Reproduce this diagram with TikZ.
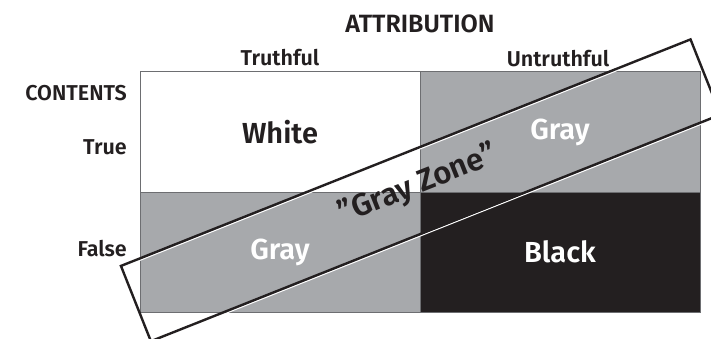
\documentclass[tikz,border=0pt]{standalone}
\usepackage{fontspec}
\setmainfont{Fira Sans}[BoldFont={Fira Sans SemiBold}]
\usepackage{xcolor}
\definecolor{cellgray}{HTML}{A7A9AC}
\definecolor{cellblack}{HTML}{231F20}
\definecolor{rulegray}{HTML}{6D6E71}
\definecolor{ink}{HTML}{231F20}

\begin{document}
\begin{tikzpicture}[x=1pt, y=-1pt,
    cell/.style={draw=rulegray, line width=1pt, minimum width=280pt, minimum height=120pt, inner sep=0pt, font=\fontsize{29}{30}\selectfont\bfseries},
    lbl/.style={text=ink, inner sep=0pt, font=\fontsize{21.5}{22}\selectfont\bfseries},
    zonebox/.style={rotate=21.69, minimum width=613pt, minimum height=81pt, inner sep=0pt},
    zonetext/.style={rotate=21.69, inner sep=0pt, font=\fontsize{31}{32}\selectfont\bfseries}]
    \useasboundingbox (0,0) rectangle (711,339);
    \clip (0,0) rectangle (711,339);

    % Cells
    \node[cell, fill=white, text=ink] (white) at (280, 132) {White};
    \node[cell, fill=cellgray, text=white] (grayup) at (560, 132) {Gray};
    \node[cell, fill=cellgray, text=white] (graylow) at (280, 252) {Gray};
    \node[cell, fill=cellblack, text=white] (black) at (560, 252) {Black};

    % Headings
    \node[lbl, anchor=base, font=\fontsize{25}{26}\selectfont\bfseries] (attribution) at (420, 33) {ATTRIBUTION};
    \node[lbl, anchor=base] (truthful) at (280, 66) {Truthful};
    \node[lbl, anchor=base] (untruthful) at (558, 67) {Untruthful};
    \node[lbl, anchor=base east] (contents) at (127, 100.7) {CONTENTS};
    \node[lbl, anchor=base east] (true) at (127, 155) {True};
    \node[lbl, anchor=base east] (false) at (127, 256) {False};

    % Gray zone
    \node[zonebox, draw=white, line width=1.2pt] (zoneshadow) at (420.7, 192.2) {};
    \node[zonebox, draw=ink, line width=2.4pt] (zone) at (420.7, 190.3) {};
    \node[zonetext, text=ink] (zonelabel) at (418, 185) {\symbol{34}Gray Zone\symbol{34}};
\end{tikzpicture}
\end{document}
